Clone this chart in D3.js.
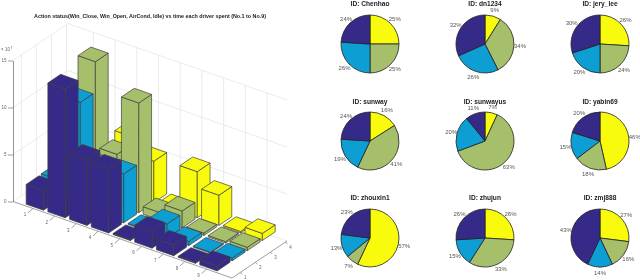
<!DOCTYPE html>
<html><head><meta charset="utf-8">
<script src="https://cdn.jsdelivr.net/npm/d3@7"></script>
<style>html,body{margin:0;padding:0;background:#fff;overflow:hidden}svg{display:block}text{font-family:"Liberation Sans",Arial,sans-serif}</style>
</head><body><svg id="c" width="640" height="280"></svg>
<script>
const barTitle = "Action status(Win_Close, Win_Open, AirCond, Idle) vs time each driver spent (No.1 to No.9)";
const seriesColors = ["#352a87", "#0a9fd4", "#a5bf6b", "#f9fb0e"];
const drivers = [1,2,3,4,5,6,7,8,9];
const rows = [1,2,3,4];
const zTicks = [0,5,10,15];
const row1 = [2.1,13.7,7.05,6.8,0.1,1.8,1.13,0.1,0.55];
const row2 = [2.15,11.2,5,5.2,0.1,1.5,0.45,0.1,0.3];
const row3 = [0.5,14.45,5.4,11.67,0.8,1.8,0.25,0.15,0.35];
const row4 = [0.5,1,6.2,4.4,0.15,4.9,3.2,0.15,0.75];
const pieIds = ["Chenhao","dn1234","jery_lee","sunway","sunwayus","yabin69","zhouxin1","zhujun","zmj888"];
const pieColors = ["#f9fb0e","#a5bf6b","#0a9fd4","#352a87"];
const pieValues = [[25,25,26,24],[9,34,26,32],[26,24,20,30],[16,41,19,24],[7,63,20,11],[46,18,15,20],[57,7,13,23],[26,33,15,26],[27,16,14,43]];
const pieCols = [370,485,600];
const pieRows = [44,141,238];
const pieTitleRows = [6,103.5,199.5];

const svg = d3.select("#c");
svg.append("defs").append("filter").attr("id","soft").attr("x",0).attr("y",0).attr("width","100%").attr("height","100%")
  .append("feGaussianBlur").attr("stdDeviation",0.3);
const g = svg.append("g").attr("filter","url(#soft)");
g.append("rect").attr("width",640).attr("height",280).attr("fill","#fff");

const xX = d3.scaleLinear().domain([0.08,10.17]).range([0,219]);
const xY = d3.scaleLinear().domain([0.08,10.17]).range([0,76.5]);
const yX = d3.scaleLinear().domain([0.45,4.1]).range([0,55]);
const yY = d3.scaleLinear().domain([0.45,4.1]).range([0,-37]);
const zY = d3.scaleLinear().domain([0,15]).range([0,-141]);
const P = (x,y,z) => [13+xX(x)+yX(y), 201.5+xY(x)+yY(y)+zY(z)];
const xMin=0.08,xMax=10.17,yMin=0.45,yMax=4.1,zMax=15,wallShift=0.25;
const seg = (a,b,c,w=0.7)=>g.append("path").attr("d",d3.line()([a,b])).attr("stroke",c).attr("stroke-width",w).attr("fill","none");
const gridC="#e3e3e3";

// walls
zTicks.forEach(z=>{
  seg(P(xMin,yMin,z),P(xMin,yMax,z),gridC);
  seg(P(xMin,yMax,z),P(xMax,yMax,z),gridC);
});
rows.forEach(y=>seg(P(xMin,y,0),P(xMin,y,zMax),gridC));
drivers.forEach(x=>seg(P(x+wallShift,yMax,0),P(x+wallShift,yMax,zMax),gridC));

// axes
seg(P(xMin,yMin,0),P(xMax,yMin,0),"#777");
seg(P(xMax,yMin,0),P(xMax,yMax,0),"#777");
const axisZ = d3.scaleLinear().domain([0,15]).range([P(xMin,yMin,0)[1],P(xMin,yMin,15)[1]]);
const za = g.append("g").attr("transform",`translate(${P(xMin,yMin,0)[0]},0)`)
  .call(d3.axisLeft(axisZ).tickValues(zTicks).tickSize(5).tickSizeOuter(0));
za.select(".domain").attr("stroke","#777").attr("stroke-width",0.8);
za.selectAll("line").attr("stroke","#777").attr("stroke-width",0.7);
za.selectAll("text").attr("fill","#666").attr("font-size",4.5).attr("x",-6.5).style("font-family","'Liberation Sans'");
g.append("text").attr("x",1).attr("y",51).attr("font-size",4.5).attr("fill","#666").text("× 10");
g.append("text").attr("x",10.5).attr("y",48.5).attr("font-size",3.2).attr("fill","#666").text("7");

drivers.forEach(x=>{
  const a=P(x,yMin,0),b=[a[0]-5,a[1]+4.5];
  seg(a,b,"#777");
  g.append("text").attr("x",b[0]-3).attr("y",Math.min(b[1]+3.5,279)).attr("font-size",4.5).attr("fill","#666").attr("text-anchor","middle").text(x);
});
rows.forEach(y=>{
  const a=P(xMax,y,0),b=[a[0]+2,a[1]+2];
  seg(a,b,"#777");
  g.append("text").attr("x",a[0]+5).attr("y",Math.min(a[1]+6.5,279)).attr("font-size",4.5).attr("fill","#666").attr("text-anchor","middle").text(y);
});

// bars, back row first
const halfX=0.4,halfY=0.425;
const rowValues=[row1,row2,row3,row4];
const poly=d3.line().curve(d3.curveLinearClosed);
[3,2,1,0].forEach(r=>{
  const yc=rows[r], col=seriesColors[r];
  drivers.forEach((xc,i)=>{
    const h=rowValues[r][i];
    const x0=xc-halfX,x1=xc+halfX,y0=yc-halfY,y1=yc+halfY;
    const faces=[
      [P(x0,y0,0),P(x1,y0,0),P(x1,y0,h),P(x0,y0,h)],
      [P(x1,y0,0),P(x1,y1,0),P(x1,y1,h),P(x1,y0,h)],
      [P(x0,y0,h),P(x1,y0,h),P(x1,y1,h),P(x0,y1,h)]
    ];
    g.append("g").selectAll("path").data(faces).join("path")
      .attr("d",d=>poly(d)).attr("fill",col).attr("stroke","#3d3d3d").attr("stroke-width",0.7).attr("stroke-linejoin","round");
  });
});
g.append("text").attr("x",150).attr("y",18).attr("text-anchor","middle").attr("font-size",5.35).attr("font-weight","bold").attr("fill","#222").text(barTitle);

// pies
const pieR=29, labelR=35;
const pie=d3.pie().sort(null);
const arc=d3.arc().innerRadius(0).outerRadius(pieR);
pieIds.forEach((id,i)=>{
  const cx=pieCols[i%3], cy=pieRows[Math.floor(i/3)], ty=pieTitleRows[Math.floor(i/3)];
  const pg=g.append("g").attr("transform",`translate(${cx},${cy})`);
  const arcs=pie(pieValues[i]);
  pg.selectAll("path").data(arcs).join("path").attr("d",arc)
    .attr("fill",(d,j)=>pieColors[j]).attr("stroke","#222").attr("stroke-width",0.8);
  pg.selectAll("text").data(arcs).join("text")
    .attr("x",d=>labelR*Math.sin((d.startAngle+d.endAngle)/2))
    .attr("y",d=>-labelR*Math.cos((d.startAngle+d.endAngle)/2)+2)
    .attr("text-anchor","middle").attr("font-size",6).attr("fill","#555")
    .text((d,j)=>pieValues[i][j]+"%");
  g.append("text").attr("x",cx).attr("y",ty).attr("text-anchor","middle")
    .attr("font-size",6.6).attr("font-weight","bold").attr("fill","#222").text("ID: "+id);
});
</script></body></html>
